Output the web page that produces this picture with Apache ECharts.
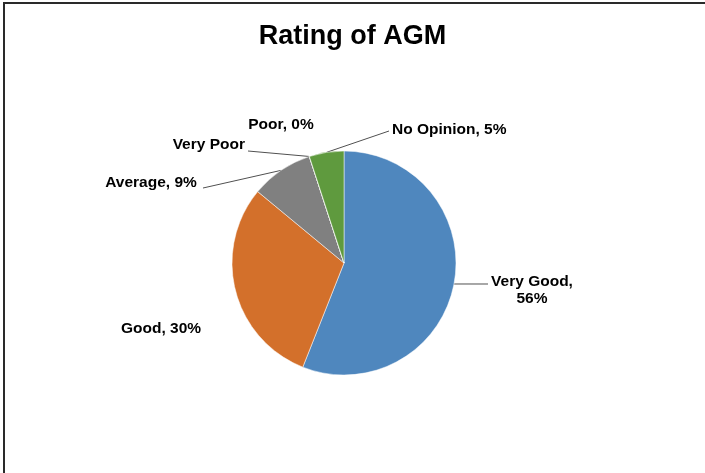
<!DOCTYPE html>
<html>
<head>
<meta charset="utf-8">
<script src="https://cdn.jsdelivr.net/npm/echarts@6/dist/echarts.min.js"></script>
<style>
  html, body { margin: 0; padding: 0; background: #fff; overflow: hidden; }
  #main { position: absolute; left: 0; top: 0; width: 705px; height: 473px; }
  #frame { position: absolute; left: 3px; top: 2px; width: 720px; height: 490px;
           border-left: 2px solid #2a2a2a; border-top: 2px solid #2a2a2a; pointer-events: none; }
</style>
</head>
<body>
<div id="main"></div>
<div id="frame"></div>
<script>
// data
const categories = ['Very Good', 'Good', 'Average', 'Very Poor', 'Poor', 'No Opinion'];
const percents = [56, 30, 9, 0, 0, 5];
const colors = ['#4f87be', '#d3702b', '#808080', '#f2b100', '#3a64ad', '#5f9a3e'];

// label placement (Excel style, dragged by hand)
const labelPos = [
  { x: 532, y: 290, align: 'center' },
  { x: 161, y: 329, align: 'center' },
  { x: 151, y: 183, align: 'center' },
  { x: 245, y: 145, align: 'right' },
  { x: 281, y: 125, align: 'center' },
  { x: 392, y: 130, align: 'left' }
];
// where each leader line meets its label (null = no line)
const lineEnd = [[488, 284], null, [203, 188], [248, 151], null, [389, 131]];

const cx = 344, cy = 263, R = 112;

// point on the rim at the middle of slice i
function rimPoint(i) {
  let before = 0;
  for (let k = 0; k < i; k++) before += percents[k];
  const mid = (before + percents[i] / 2) / 100 * Math.PI * 2;
  return [cx + R * Math.sin(mid), cy - R * Math.cos(mid)];
}

const seriesData = categories.map((name, i) => {
  let text = name + ', ' + percents[i] + '%';
  if (name === 'Very Poor') text = name;
  if (name === 'Very Good') text = name + ',\n' + percents[i] + '%';
  return {
    name: name,
    value: percents[i],
    itemStyle: { color: colors[i] },
    label: { formatter: text },
    labelLine: { show: lineEnd[i] != null }
  };
});

const myChart = echarts.init(document.getElementById('main'));
const option = {
  animation: false,
  title: {
    text: 'Rating of AGM',
    left: 'center',
    top: 18,
    textStyle: { fontFamily: 'Liberation Sans, Arial', fontSize: 27, fontWeight: 'bold', color: '#000' }
  },
  series: [{
    type: 'pie',
    center: [cx, cy],
    radius: R,
    startAngle: 90,
    clockwise: true,
    data: seriesData,
    itemStyle: { borderColor: '#fff', borderWidth: 0.5 },
    label: {
      show: true,
      color: '#000',
      fontFamily: 'Liberation Sans, Arial',
      fontWeight: 'bold',
      fontSize: 15.5,
      lineHeight: 17,
      align: 'center'
    },
    labelLine: {
      show: true,
      lineStyle: { color: '#505050', width: 1 }
    },
    labelLayout: function (params) {
      const i = params.dataIndex;
      const p = labelPos[i];
      const out = { x: p.x, y: p.y, align: p.align, verticalAlign: 'middle' };
      if (lineEnd[i]) out.labelLinePoints = [rimPoint(i), lineEnd[i], lineEnd[i]];
      return out;
    }
  }]
};
myChart.setOption(option);
window.onresize = myChart.resize;
</script>
</body>
</html>
